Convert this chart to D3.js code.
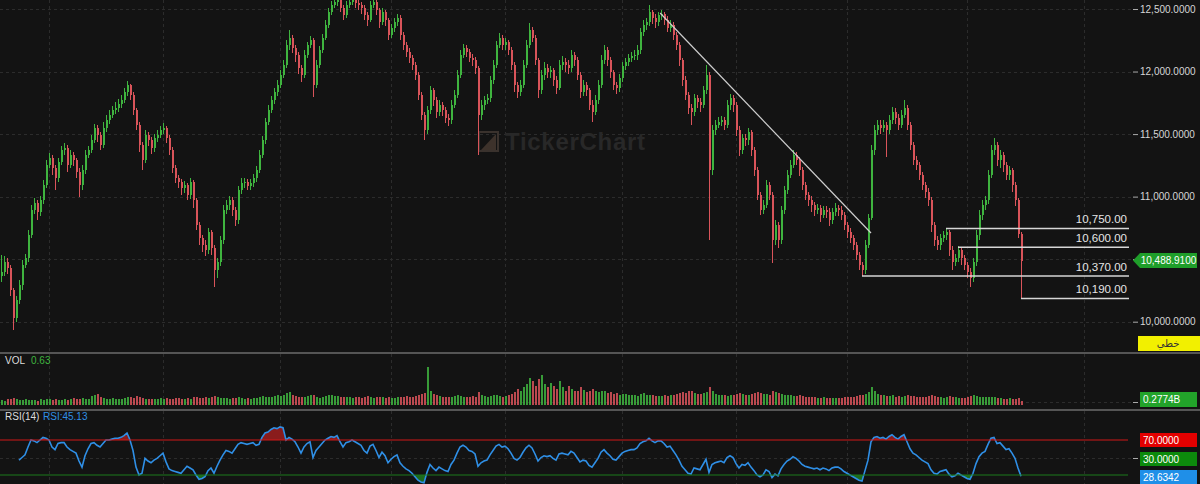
<!DOCTYPE html>
<html><head><meta charset="utf-8">
<script src="https://cdn.jsdelivr.net/npm/d3@7"></script>
<style>html,body{margin:0;padding:0;background:#131313;overflow:hidden}svg{display:block}</style>
</head><body><svg id="c" width="1200" height="484"></svg>
<script>
const firstOpen = 10364;
const closes = [
10396,10476,10428,10252,10028,10172,10292,10452,10508,10692,
10892,10948,10876,10972,11092,11252,11308,11228,11148,11276,
11372,11388,11252,11332,11292,11196,11092,11212,11332,11372,
11452,11548,11492,11412,11548,11612,11652,11692,11708,11740,
11772,11836,11892,11812,11692,11572,11412,11292,11492,11452,
11388,11468,11492,11532,11548,11468,11372,11228,11148,11116,
11068,11092,11012,11116,10972,10772,10668,10612,10572,10716,
10588,10412,10476,10652,10892,10932,10972,10892,10812,11052,
11108,11116,11084,11108,11148,11212,11332,11452,11596,11692,
11772,11836,11892,11972,12052,12212,12268,12188,12132,12028,
11972,12132,12212,12252,11892,12052,12172,12268,12372,12476,
12532,12556,12572,12508,12452,12532,12556,12572,12548,12532,
12508,12452,12412,12532,12556,12492,12396,12476,12412,12292,
12348,12396,12428,12292,12212,12156,12108,12052,11972,11812,
11652,11532,11692,11852,11772,11676,11732,11692,11628,11612,
11732,11812,11972,12132,12188,12156,12108,12092,12028,11652,
11732,11772,11788,11932,12052,12212,12268,12212,12236,12172,
12052,11892,11836,11892,12052,12212,12332,12268,12092,11852,
11972,12028,11996,12012,11932,11868,12052,12076,12052,12028,
12132,12092,11972,11836,11892,11852,11732,11676,11772,11892,
12092,12172,12092,11996,11892,11868,11948,12044,12076,12108,
12124,12132,12172,12316,12372,12396,12476,12428,12396,12452,
12460,12412,12348,12372,12292,12212,12092,11932,11812,11708,
11676,11788,11756,11732,11852,11972,11212,11532,11572,11596,
11612,11572,11732,11788,11732,11532,11372,11468,11452,11516,
11372,11212,11012,10892,10932,11092,11012,10652,10772,10652,
10892,11052,11172,11252,11332,11292,11212,11092,11012,10972,
10932,10892,10908,10852,10892,10876,10812,10876,10908,10892,
10852,10772,10716,10668,10612,10532,10452,10412,10612,10828,
11372,11532,11572,11548,11572,11532,11612,11676,11628,11572,
11652,11708,11572,11412,11292,11252,11172,11092,11036,10972,
10772,10652,10612,10668,10692,10716,10572,10476,10508,10572,
10508,10452,10396,10348,10476,10692,10852,10932,10972,11172,
11372,11412,11292,11332,11252,11172,11212,11092,10972,10700,
10488.91];
const highs = [
10532,10524,10508,10452,10268,10204,10332,10492,10540,10732,
10932,10988,10972,11004,11132,11292,11348,11332,11252,11308,
11404,11428,11412,11372,11356,11308,11228,11252,11372,11404,
11492,11580,11572,11516,11596,11652,11692,11724,11756,11780,
11812,11868,11924,11900,11836,11708,11596,11436,11532,11516,
11476,11500,11532,11564,11588,11564,11492,11396,11252,11172,
11140,11124,11108,11148,11132,10988,10796,10692,10652,10748,
10732,10612,10508,10684,10932,10972,11004,10996,10916,11084,
11148,11148,11140,11140,11180,11244,11372,11484,11628,11732,
11804,11868,11932,12012,12092,12252,12332,12292,12212,12156,
12052,12172,12236,12284,12268,12092,12204,12300,12412,12508,
12564,12588,12604,12596,12532,12564,12588,12604,12596,12572,
12556,12532,12476,12564,12588,12572,12508,12508,12492,12428,
12380,12428,12460,12452,12316,12236,12188,12132,12076,11996,
11836,11676,11724,11884,11868,11796,11772,11756,11716,11660,
11772,11852,12012,12172,12220,12212,12180,12140,12116,12044,
11772,11804,11820,11964,12092,12244,12308,12292,12268,12252,
12196,12076,11916,11932,12092,12252,12388,12356,12292,12108,
12012,12076,12060,12044,12028,11964,12092,12124,12108,12092,
12172,12156,12116,11996,11932,11916,11868,11772,11812,11932,
12132,12212,12196,12116,12012,11916,11980,12076,12108,12140,
12156,12172,12212,12348,12412,12428,12532,12492,12460,12476,
12492,12476,12444,12412,12396,12316,12236,12108,11964,11836,
11740,11820,11812,11788,11884,12052,11996,11572,11612,11636,
11644,11636,11772,11820,11812,11756,11564,11500,11500,11548,
11532,11396,11236,11036,10972,11132,11116,11036,10812,10796,
10924,11084,11212,11292,11372,11356,11316,11236,11116,11036,
11004,10956,10940,10932,10924,10924,10908,10908,10948,10932,
10924,10876,10796,10748,10692,10636,10556,10476,10652,10860,
11412,11572,11612,11612,11612,11596,11652,11716,11708,11660,
11692,11772,11732,11596,11436,11324,11276,11196,11116,11068,
10996,10796,10684,10700,10724,10740,10732,10604,10540,10604,
10596,10532,10476,10428,10508,10732,10892,10972,11004,11212,
11412,11468,11436,11372,11356,11276,11244,11228,11116,10988,
10716];
const lows = [
10316,10364,10380,10204,9932,9996,10140,10252,10428,10476,
10668,10860,10812,10844,10940,11068,11228,11172,11052,11116,
11252,11332,11196,11228,11244,11148,10996,11052,11180,11308,
11348,11428,11436,11372,11388,11516,11580,11628,11660,11676,
11708,11748,11804,11772,11652,11532,11356,11212,11268,11404,
11340,11356,11436,11468,11500,11428,11332,11188,11108,11068,
11012,11028,10972,10980,10908,10732,10612,10556,10524,10540,
10532,10276,10348,10444,10620,10860,10892,10844,10764,10780,
11020,11068,11052,11052,11076,11116,11188,11308,11420,11572,
11668,11740,11804,11868,11948,12028,12172,12148,12076,11980,
11916,11948,12108,12188,11796,11868,12028,12148,12252,12348,
12452,12508,12524,12476,12412,12428,12508,12532,12508,12492,
12460,12412,12364,12396,12508,12452,12348,12372,12364,12252,
12268,12316,12364,12252,12172,12116,12068,12012,11932,11772,
11612,11452,11500,11660,11724,11628,11644,11644,11588,11564,
11580,11708,11788,11948,12108,12116,12076,12044,11980,11332,
11612,11692,11740,11756,11900,12028,12188,12172,12172,12132,
12012,11836,11788,11804,11868,12028,12188,12236,12052,11788,
11820,11932,11948,11948,11884,11820,11852,12012,11996,11980,
11996,12044,11932,11788,11804,11804,11692,11596,11652,11740,
11868,12060,12044,11948,11852,11820,11836,11916,12012,12044,
12076,12092,12092,12140,12284,12332,12364,12380,12348,12364,
12412,12372,12316,12316,12252,12172,12044,11884,11772,11660,
11572,11644,11708,11676,11708,11820,10652,11172,11492,11548,
11564,11532,11548,11692,11676,11484,11324,11340,11404,11412,
11324,11164,10972,10852,10860,10908,10972,10468,10612,10588,
10620,10860,11020,11148,11228,11252,11164,11052,10972,10924,
10876,10844,10860,10796,10828,10828,10764,10780,10844,10844,
10812,10732,10668,10628,10572,10492,10412,10364,10380,10588,
10812,11332,11492,11500,11516,11316,11500,11580,11580,11532,
11548,11628,11532,11372,11252,11212,11132,11052,10988,10924,
10716,10604,10572,10572,10636,10652,10524,10412,10444,10476,
10452,10412,10348,10276,10316,10444,10652,10812,10892,10940,
11148,11332,11244,11228,11196,11132,11132,11036,10924,10668,
10190];
const volumes = [
.32,.28,.35,.4,.45,.38,.3,.33,.36,.3,
.34,.3,.28,.36,.33,.4,.35,.3,.38,.34,
.3,.36,.33,.38,.42,.36,.4,.45,.38,.4,
.55,.62,.7,.5,.45,.4,.36,.42,.38,.35,
.4,.45,.5,.48,.42,.55,.5,.46,.4,.38,
.36,.4,.35,.42,.38,.45,.4,.36,.42,.45,
.4,.38,.44,.4,.48,.52,.46,.42,.5,.45,
.48,.55,.5,.44,.46,.42,.4,.45,.43,.5,
.42,.4,.45,.38,.42,.46,.5,.55,.52,.48,
.5,.58,.62,.55,.6,.75,.8,.6,.55,.5,
.52,.48,.55,.6,.65,.5,.45,.5,.55,.6,
.62,.58,.55,.5,.48,.52,.5,.45,.48,.5,
.46,.5,.55,.48,.45,.5,.52,.48,.46,.5,
.45,.42,.48,.5,.52,.55,.5,.48,.55,.6,
.7,.75,2.4,.9,.7,.6,.55,.5,.48,.52,
.5,.55,.6,.58,.52,.5,.48,.55,.5,.8,
.65,.55,.5,.58,.62,.6,.55,.5,.58,.62,
.7,.8,1.0,.9,1.1,1.3,1.7,1.5,1.2,1.6,
1.9,1.3,1.1,1.4,1.2,1.0,1.5,1.1,.9,1.2,
1.0,.85,.9,1.1,.95,.8,.9,1.0,.85,.8,
.9,.85,.75,.8,.7,.75,.65,.7,.68,.6,
.62,.6,.58,.7,.75,.65,.6,.62,.58,.55,
.55,.6,.58,.62,.65,.7,.75,.8,.72,.85,
.9,.75,.7,.68,.72,.8,1.1,.9,.7,.65,
.6,.62,.58,.65,.6,.7,.75,.68,.6,.62,
.7,.75,.8,.72,.68,.7,.65,.9,.8,.75,
.7,.65,.6,.62,.58,.55,.6,.55,.52,.5,
.48,.5,.46,.45,.48,.44,.46,.42,.45,.44,
.46,.5,.52,.48,.5,.55,.6,.62,.7,.8,
1.1,.85,.7,.65,.6,.58,.55,.6,.52,.55,
.5,.55,.6,.58,.55,.5,.52,.48,.5,.55,
.6,.58,.5,.48,.45,.5,.55,.5,.48,.45,
.44,.46,.5,.55,.6,.58,.52,.5,.48,.5,
.52,.48,.45,.42,.4,.38,.42,.4,.38,.45,
.2774];
const rsiStart = 6;
const rsiValues = [
47,50,53,62,
70,69,67,70,73,72,70,62,59,66,
67,67,62,59,57,55,46,39,52,60,
66,67,64,62,66,70,70,71,72,72,
73,75,78,70,58,39,30,32,49,46,
44,47,49,52,55,45,37,35,34,33,
32,36,40,38,36,30,25,26,28,35,
38,32,40,47,53,58,57,55,60,65,
67,66,65,66,67,64,65,73,78,79,
82,84,83,85,84,70,73,71,68,62,
55,62,66,68,50,58,62,66,70,72,
74,73,75,68,62,67,68,70,68,66,
64,58,55,63,65,58,50,56,52,44,
48,51,53,44,40,37,35,32,28,24,
22,21,33,42,38,35,39,37,35,34,
42,47,55,62,64,62,58,57,54,40,
44,46,47,53,58,63,65,62,63,60,
55,49,47,50,56,61,64,61,54,46,
50,52,51,52,49,47,54,55,54,53,
57,55,50,45,47,46,41,39,44,49,
56,59,55,52,48,47,51,55,57,58,
59,59,61,66,68,69,72,69,67,69,
69,66,62,63,58,53,47,40,36,32,
31,38,37,36,42,48,33,42,44,45,
46,44,50,52,50,43,38,42,41,44,
39,35,30,28,30,36,34,27,31,29,
37,42,46,48,51,49,46,42,40,39,
38,37,38,36,38,37,35,38,39,39,
37,34,32,30,28,26,24,23,35,47,
68,73,74,72,73,71,74,76,73,71,
74,76,68,60,55,53,50,47,45,43,
36,32,31,34,35,36,31,28,29,32,
30,28,26,25,32,43,51,55,57,65,
72,73,66,67,63,59,60,55,49,38,
28.6342];
const priceTicks = [10000,10500,11000,11500,12000,12500];
const gridIdx = [16,54,93,130,168,207,245,282,322,361];
const levelPrices = [10750,10600,10370,10190];
const levelStart = [315,319,287,340];
const trendPts = [[219.7,12468],[290,10709]];
const lastPrice = 10488.91;
const volLast = "0.2774B";
const rsiLevels = [70,30];

const svg = d3.select('#c');
const W = 1200, H = 484, plotR = 1133;
const green = '#3fb43f', red = '#d9545a';
svg.append('rect').attr('width',W).attr('height',H).attr('fill','#131313');

const x = d3.scaleLinear().domain([0,340]).range([1,1021]);
const y = d3.scaleLinear().domain([10000,12500]).range([321.7,9]);
const yv = d3.scaleLinear().domain([0,3]).range([405,357]);
const yr = d3.scaleLinear().domain([30,70]).range([475,440]);

const defs = svg.append('defs');
function clip(id,x0,y0,w,h){defs.append('clipPath').attr('id',id).append('rect').attr('x',x0).attr('y',y0).attr('width',w).attr('height',h);}
clip('cMain',0,0,plotR,352);
clip('cVol',0,354,plotR,55);
clip('cRsi',0,411,plotR,73);
clip('cAbove',0,411,plotR,yr(70)-411);
clip('cBelow',0,yr(30),plotR,484-yr(30));

const grid = svg.append('g').attr('stroke','#2c2c2c').attr('stroke-dasharray','3,3').attr('stroke-width',1);
gridIdx.forEach(i=>{
  const gx = Math.round(x(i))+0.5;
  [[0,352],[354,409],[411,484]].forEach(r=>grid.append('line').attr('x1',gx).attr('x2',gx).attr('y1',r[0]).attr('y2',r[1]));
});
priceTicks.forEach(p=>{
  const gy = Math.round(y(p))+0.5;
  grid.append('line').attr('x1',0).attr('x2',plotR).attr('y1',gy).attr('y2',gy);
});
grid.append('line').attr('x1',0).attr('x2',plotR).attr('y1',Math.round(yr(50))+0.5).attr('y2',Math.round(yr(50))+0.5);
grid.append('line').attr('x1',0).attr('x2',plotR).attr('y1',Math.round(yv(0.2))+0.5).attr('y2',Math.round(yv(0.2))+0.5);

// watermark
const wm = svg.append('g');
wm.append('rect').attr('x',479).attr('y',132).attr('width',19).attr('height',19).attr('fill','none').attr('stroke','#3a322d').attr('stroke-width',2);
wm.append('path').attr('d','M481,150 L496,134 L496,150 Z').attr('fill','#3d322b');
wm.append('text').attr('x',505).attr('y',150).attr('font-family','Liberation Sans, Arial, sans-serif').attr('font-weight','bold').attr('font-size',24).attr('textLength',140).attr('fill','#282828').text('TickerChart');

// candles
const data = closes.map((c,i)=>({i, o: i===0?firstOpen:closes[i-1], c, h: highs[i], l: lows[i], v: volumes[i]}));
const gC = svg.append('g').attr('clip-path','url(#cMain)').attr('shape-rendering','crispEdges');
data.forEach(d=>{
  const xi = Math.round(x(d.i));
  const col = d.c >= d.o ? green : red;
  gC.append('rect').attr('x',xi).attr('width',1).attr('y',y(d.h)).attr('height',Math.max(1,y(d.l)-y(d.h))).attr('fill',col);
  const top = y(Math.max(d.o,d.c)), bot = y(Math.min(d.o,d.c));
  gC.append('rect').attr('x',xi-0.5).attr('width',2).attr('y',top).attr('height',Math.max(1,bot-top)).attr('fill',col);
});

// drawings
const gD = svg.append('g').attr('clip-path','url(#cMain)');
gD.append('line').attr('x1',x(trendPts[0][0])).attr('y1',y(trendPts[0][1])).attr('x2',x(trendPts[1][0])).attr('y2',y(trendPts[1][1])).attr('stroke','#cfcfcf').attr('stroke-width',1.2);
levelPrices.forEach((p,k)=>{
  const ly = y(p)+0.5;
  svg.append('line').attr('x1',x(levelStart[k])).attr('x2',1129).attr('y1',ly).attr('y2',ly).attr('stroke','#d6d6d6').attr('stroke-width',1.5);
  svg.append('text').attr('x',1127).attr('y',ly-5).attr('text-anchor','end').attr('font-family','Liberation Sans, Arial, sans-serif').attr('font-size',11.5).attr('fill','#e6e6e6').text(d3.format(',.2f')(p));
});

// price axis
const ax = svg.append('g').attr('transform',`translate(${plotR},0)`).call(d3.axisRight(y).tickValues(priceTicks).tickSize(5).tickPadding(2).tickFormat(d3.format(',.4f')));
ax.select('.domain').remove();
ax.selectAll('line').attr('stroke','#aaaaaa');
ax.selectAll('text').attr('fill','#d6d6d6').attr('font-size',10).attr('font-family','Liberation Sans, Arial, sans-serif');

// price tag
const ty = y(lastPrice);
svg.append('path').attr('d',`M1133,${ty} L1140,${ty-7.5} L1197,${ty-7.5} L1197,${ty+7.5} L1140,${ty+7.5} Z`).attr('fill','#1f9e2a');
svg.append('text').attr('x',1168.5).attr('y',ty+3.5).attr('text-anchor','middle').attr('font-family','Liberation Sans, Arial, sans-serif').attr('font-size',10).attr('fill','#ffffff').text(d3.format(',.4f')(lastPrice));

// yellow box
svg.append('rect').attr('x',1138).attr('y',336).attr('width',62).attr('height',15).attr('fill','#f2f000');
svg.append('text').attr('x',1168).attr('y',347).attr('text-anchor','middle').attr('font-family','DejaVu Sans, Noto Sans, sans-serif').attr('font-size',10).attr('fill','#333').text('خطي');

// separators
[353,410].forEach(sy=>svg.append('line').attr('x1',0).attr('x2',W).attr('y1',sy).attr('y2',sy).attr('stroke','#555555').attr('stroke-width',2));

// volume
const gV = svg.append('g').attr('clip-path','url(#cVol)').attr('shape-rendering','crispEdges');
data.forEach(d=>{
  const xi = Math.round(x(d.i));
  gV.append('rect').attr('x',xi-0.5).attr('width',2).attr('y',yv(d.v)).attr('height',yv(0)-yv(d.v)).attr('fill',d.c>=d.o?green:red).attr('opacity',0.85);
});
svg.append('text').attr('x',5).attr('y',364).attr('font-family','Liberation Sans, Arial, sans-serif').attr('font-size',10).attr('fill','#dddddd').text('VOL');
svg.append('text').attr('x',31).attr('y',364).attr('font-family','Liberation Sans, Arial, sans-serif').attr('font-size',10).attr('fill','#3fb43f').text('0.63');
svg.append('line').attr('x1',1133).attr('x2',1138).attr('y1',402.5).attr('y2',402.5).attr('stroke','#aaa');
svg.append('rect').attr('x',1140).attr('y',392).attr('width',57).attr('height',15).attr('fill','#22a32a');
svg.append('text').attr('x',1143).attr('y',403).attr('font-family','Liberation Sans, Arial, sans-serif').attr('font-size',10).attr('fill','#fff').text(volLast);

// RSI
const rsiData = rsiValues.map((v,k)=>({i:k+rsiStart, v}));
const gR = svg.append('g').attr('clip-path','url(#cRsi)');
const areaUp = d3.area().x(d=>x(d.i)).y0(yr(70)).y1(d=>yr(d.v));
const areaDn = d3.area().x(d=>x(d.i)).y0(yr(30)).y1(d=>yr(d.v));
gR.append('g').attr('clip-path','url(#cAbove)').append('path').attr('d',areaUp(rsiData)).attr('fill','#8a1c1c');
gR.append('g').attr('clip-path','url(#cBelow)').append('path').attr('d',areaDn(rsiData)).attr('fill','#1d6a1d');
svg.append('line').attr('x1',0).attr('x2',1128).attr('y1',yr(70)).attr('y2',yr(70)).attr('stroke','#d01818').attr('stroke-width',1.2);
svg.append('line').attr('x1',0).attr('x2',1128).attr('y1',yr(30)).attr('y2',yr(30)).attr('stroke','#1d7a1d').attr('stroke-width',1.2);
gR.append('path').attr('d',d3.line().x(d=>x(d.i)).y(d=>yr(d.v))(rsiData)).attr('fill','none').attr('stroke','#2f8fe6').attr('stroke-width',1.6);
svg.append('text').attr('x',5).attr('y',420).attr('font-family','Liberation Sans, Arial, sans-serif').attr('font-size',10).attr('fill','#dddddd').text('RSI(14)');
svg.append('text').attr('x',43).attr('y',420).attr('font-family','Liberation Sans, Arial, sans-serif').attr('font-size',10).attr('fill','#2f8fe6').text('RSI:45.13');
svg.append('line').attr('x1',1133).attr('x2',1138).attr('y1',Math.round(yr(50))+0.5).attr('y2',Math.round(yr(50))+0.5).attr('stroke','#aaa');
const boxes = [[433,'#e30000',d3.format('.4f')(rsiLevels[0])],[452,'#0c8a0c',d3.format('.4f')(rsiLevels[1])],[470,'#1f8fe8',d3.format('.4f')(rsiValues[rsiValues.length-1])]];
boxes.forEach(b=>{
  svg.append('rect').attr('x',1140).attr('y',b[0]).attr('width',57).attr('height',14).attr('fill',b[1]);
  svg.append('text').attr('x',1143).attr('y',b[0]+10.5).attr('font-family','Liberation Sans, Arial, sans-serif').attr('font-size',10).attr('fill','#fff').text(b[2]);
});
</script></body></html>
